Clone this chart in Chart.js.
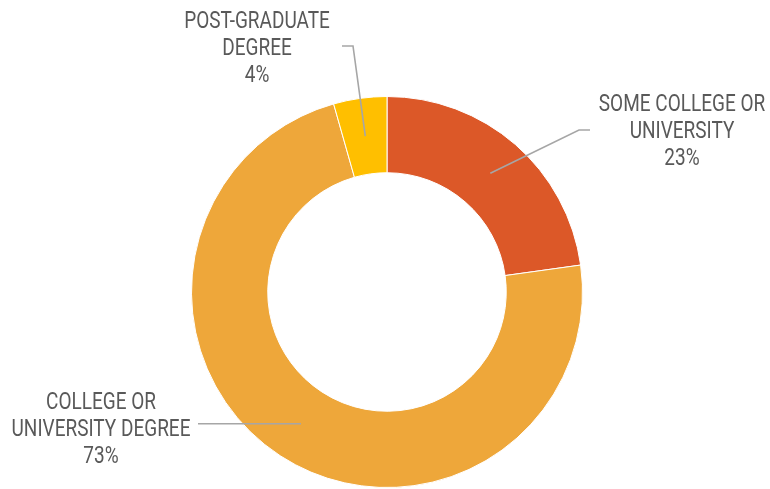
<!DOCTYPE html>
<html>
<head>
<meta charset="utf-8">
<script src="https://cdn.jsdelivr.net/npm/chart.js@4"></script>
<style>
  html, body { margin: 0; padding: 0; background: #fff; }
  #wrap { width: 770px; height: 489px; position: relative; }
</style>
</head>
<body>
<div id="wrap"><canvas id="myChart"></canvas></div>
<script>
// data
let categorias = [['SOME COLLEGE OR', 'UNIVERSITY'], ['COLLEGE OR', 'UNIVERSITY DEGREE'], ['POST-GRADUATE', 'DEGREE']];
let valores = [22.8, 72.8, 4.4];
let cores = ['#DC5828', '#EEA73A', '#FFBF00'];

// where each label sits (text centre x, first baseline) and the leader line elbow/end
let posicoes = [
    { x: 682, y: 111, elbow: [579, 130], end: [590, 130] },
    { x: 101, y: 409, elbow: null, end: [198, 426] },
    { x: 257, y: 28, elbow: [353, 46], end: [342, 46] }
];

let rotulos = {
    id: 'rotulos',
    afterDatasetsDraw(chart) {
        let ctx = chart.ctx;
        let meta = chart.getDatasetMeta(0);
        let total = valores.reduce((a, b) => a + b, 0);
        ctx.save();
        ctx.font = '400 23.5px Roboto, "Liberation Sans", sans-serif';
        // squeeze the text to look like the narrow face of the original
        let medido = ctx.measureText('UNIVERSITY DEGREE').width +
            ctx.measureText('POST-GRADUATE').width +
            ctx.measureText('SOME COLLEGE OR').width;
        let sx = (174 + 149 + 168) / medido;

        meta.data.forEach((arc, i) => {
            let p = posicoes[i];
            let c = arc.getCenterPoint();

            // leader line
            ctx.beginPath();
            ctx.strokeStyle = '#A6A6A6';
            ctx.lineWidth = 1.6;
            ctx.moveTo(c.x, c.y);
            if (p.elbow) {
                ctx.lineTo(p.elbow[0], p.elbow[1]);
                ctx.lineTo(p.end[0], p.end[1]);
            } else {
                ctx.lineTo(p.end[0], c.y);
            }
            ctx.stroke();

            // text
            let linhas = categorias[i].concat([Math.round(valores[i] / total * 100) + '%']);
            ctx.fillStyle = '#595959';
            ctx.textAlign = 'center';
            ctx.textBaseline = 'alphabetic';
            linhas.forEach((t, k) => {
                ctx.save();
                ctx.translate(p.x, p.y + k * 26.8);
                ctx.scale(sx, 1);
                ctx.fillText(t, 0, 0);
                ctx.restore();
            });
        });
        ctx.restore();
    }
};

let ctx = document.getElementById('myChart').getContext('2d');

let myChart = new Chart(ctx, {
    type: 'doughnut',
    data: {
        labels: categorias,
        datasets: [{
            data: valores,
            backgroundColor: cores,
            borderColor: '#ffffff',
            borderWidth: 1
        }]
    },
    plugins: [rotulos],
    options: {
        responsive: true,
        maintainAspectRatio: false,
        animation: false,
        cutout: '61%',
        layout: { padding: { top: 96, bottom: 1, left: 4, right: 0 } },
        plugins: {
            legend: { display: false },
            tooltip: { enabled: false }
        }
    }
});
</script>
</body>
</html>
